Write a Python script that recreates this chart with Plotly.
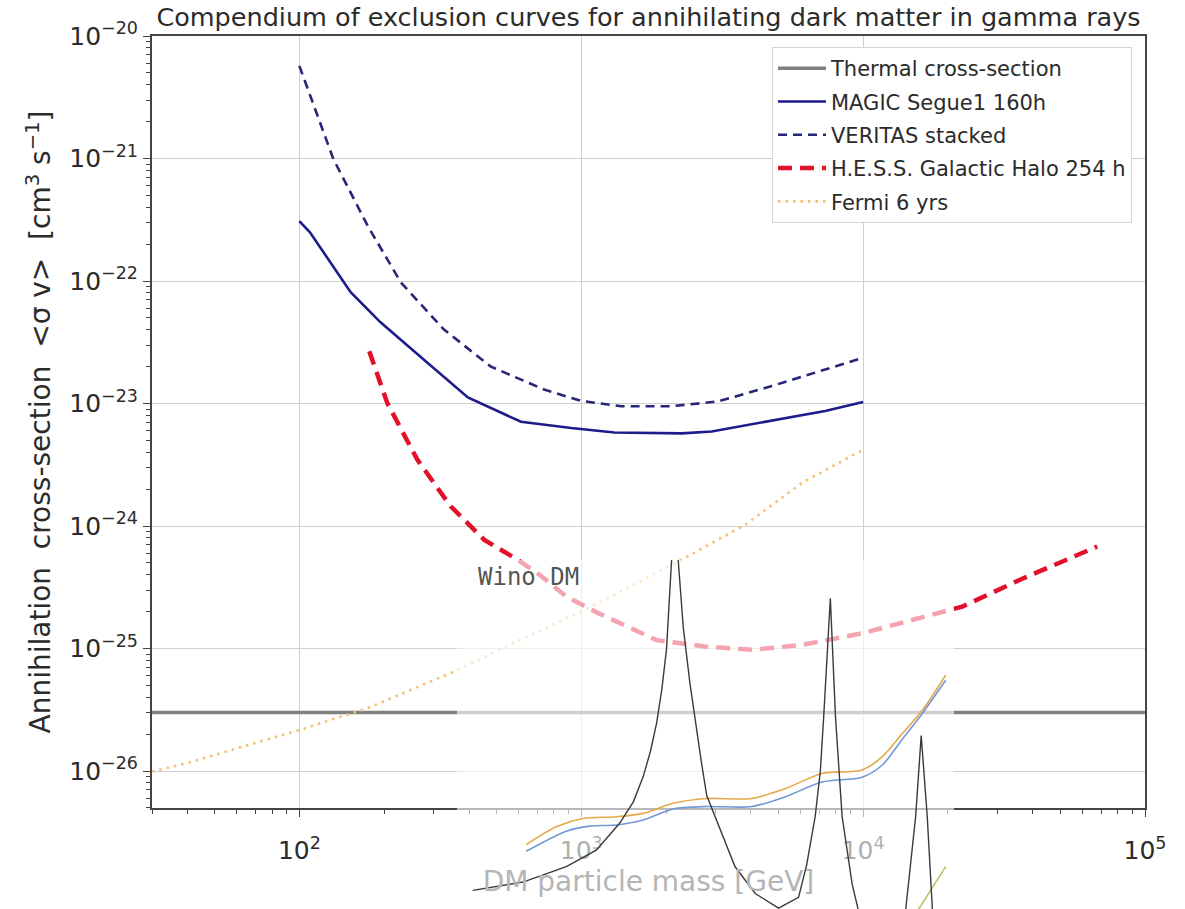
import numpy as np
import plotly.graph_objects as go

# ---------------- data ----------------
thermal_m = [30, 1e5]
thermal_sv = [3e-26, 3e-26]

magic_m = [100, 109, 152, 194, 276, 396, 611, 921, 1309, 2270, 2902, 4745, 7328, 10000]
magic_sv = [3.08e-22, 2.5e-22, 8.1e-23, 4.6e-23, 2.29e-23, 1.12e-23, 7.1e-24, 6.3e-24,
            5.8e-24, 5.7e-24, 5.9e-24, 7.2e-24, 8.7e-24, 1.03e-23]

veritas_m = [100, 132, 175, 229, 325, 478, 738, 1000, 1387, 2089, 3062, 4745, 10000]
veritas_sv = [5.7e-21, 9.9e-22, 2.8e-22, 9.75e-23, 4.03e-23, 2.0e-23, 1.3e-23, 1.05e-23,
              9.5e-24, 9.5e-24, 1.04e-23, 1.39e-23, 2.36e-23]

hess_m = [177, 205, 262, 344, 453, 595, 711, 885, 1146, 1850, 2740, 4027, 6069, 9915,
          22500, 36000, 67700]
hess_sv = [2.67e-23, 1.01e-23, 3.48e-24, 1.45e-24, 7.7e-25, 5.3e-25, 4.0e-25, 2.66e-25,
           1.95e-25, 1.17e-25, 1.04e-25, 9.75e-26, 1.07e-25, 1.33e-25, 2.2e-25, 3.64e-25,
           6.8e-25]

fermi_m = [30, 40, 60, 100, 174, 344, 600, 1028, 1680, 2334, 3810, 6070, 10000]
fermi_sv = [9.9e-27, 1.16e-26, 1.53e-26, 2.16e-26, 3.25e-26, 6.3e-26, 1.16e-25, 2.07e-25,
            3.7e-25, 5.5e-25, 1.02e-24, 2.25e-24, 4.2e-24]

# Wino DM inset curves (expressed on the same mass / cross-section scale)
wino_black_m = [412, 621, 885, 1130, 1368, 1530, 1659, 1760, 1850, 1930, 2006, 2090, 2150,
                2208, 2300, 2428, 2550, 2673, 2787, 2979, 3230, 3510, 4140, 5013, 5900,
                6300, 6760, 7050, 7244, 7650, 7980, 8200, 8420, 9140, 9600, 11500, 14160,
                15360, 16070, 16880, 17610, 19000]
wino_black_sv = [1.06e-27, 1.24e-27, 1.66e-27, 2.26e-27, 3.74e-27, 5.6e-27, 9.0e-27,
                 1.45e-26, 2.45e-26, 4.6e-26, 9.8e-26, 5.25e-25, 1.6e-24, 5.25e-25,
                 1.5e-25, 5.25e-26, 2.3e-26, 1.15e-26, 6.3e-27, 4.27e-27, 2.7e-27,
                 1.66e-27, 1.0e-27, 7.6e-28, 9.3e-28, 1.7e-27, 4.27e-27, 1.0e-26,
                 2.75e-26, 2.57e-25, 2.75e-26, 1.0e-26, 4.27e-27, 1.2e-27, 7.4e-28,
                 2.5e-28, 7.4e-28, 4.27e-27, 1.95e-26, 4.27e-27, 7.4e-28, 3.2e-28]

wino_orange_m = [637, 815, 1014, 1333, 1659, 2118, 2787, 4027, 5300, 7148, 9915, 11700,
                 13780, 16220, 19630]
wino_orange_sv = [2.51e-27, 3.51e-27, 4.10e-27, 4.23e-27, 4.51e-27, 5.45e-27, 5.96e-27,
                  5.96e-27, 7.19e-27, 9.55e-27, 1.02e-26, 1.31e-26, 2.02e-26, 3.13e-26,
                  6.05e-26]

wino_blue_m = [637, 885, 1071, 1333, 1659, 2118, 2787, 4027, 5300, 7148, 9915, 11700,
               13780, 16220, 19630]
wino_blue_sv = [2.21e-27, 3.23e-27, 3.55e-27, 3.63e-27, 3.98e-27, 4.90e-27, 5.13e-27,
                5.13e-27, 6.17e-27, 8.13e-27, 8.91e-27, 1.12e-26, 1.82e-26, 2.95e-26,
                5.50e-26]

wino_green_m = [13770, 19630]
wino_green_sv = [4.6e-28, 1.66e-27]

x_tick_vals = [1e2, 1e3, 1e4, 1e5]
x_tick_text = ["10<sup>2</sup>", "10<sup>3</sup>", "10<sup>4</sup>", "10<sup>5</sup>"]
y_tick_vals = [1e-26, 1e-25, 1e-24, 1e-23, 1e-22, 1e-21, 1e-20]
y_tick_text = ["10<sup>\u221226</sup>", "10<sup>\u221225</sup>", "10<sup>\u221224</sup>",
               "10<sup>\u221223</sup>", "10<sup>\u221222</sup>", "10<sup>\u221221</sup>",
               "10<sup>\u221220</sup>"]

# ---------------- layout geometry ----------------
W, H = 1185, 909
ML, MR, MT, MB = 152, 40, 36, 0
PW, PH = W - ML - MR, H - MT - MB
main_bottom_px = 808
x_rng = [np.log10(30), 5.0]
y_rng = [-26.302, -20.0]
yd0 = (H - main_bottom_px) / PH

# inset box (pixels)
box_l, box_r, box_t, box_b = 457, 954, 560, 909
bx0, bx1 = (box_l - ML) / PW, (box_r - ML) / PW
by0, by1 = (H - box_b) / PH, (H - box_t) / PH


def xval(p):
    return x_rng[0] + p * (x_rng[1] - x_rng[0])


def yval(p):
    return y_rng[0] + (p - yd0) / (1 - yd0) * (y_rng[1] - y_rng[0])


x2_rng = [xval(bx0), xval(bx1)]
y2_rng = [yval(by0), yval(by1)]

FONT = "DejaVu Sans"
TXT = "#2b2b2b"

fig = go.Figure()

series = [
    (thermal_m, thermal_sv, "Thermal cross-section", dict(color="#808080", width=3.5)),
    (magic_m, magic_sv, "MAGIC Segue1 160h", dict(color="#1c1c8a", width=2.6)),
    (veritas_m, veritas_sv, "VERITAS stacked", dict(color="#26267a", width=2.6, dash="9px,6px")),
    (hess_m, hess_sv, "H.E.S.S. Galactic Halo 254 h", dict(color="#e3102a", width=4.5, dash="14px,8px")),
    (fermi_m, fermi_sv, "Fermi 6 yrs", dict(color="#f3bf72", width=2.6, dash="2.5px,5px")),
]
for i, (xm, ys, nm, ln) in enumerate(series):
    fig.add_trace(go.Scatter(x=xm, y=ys, mode="lines", name=nm, line=ln,
                             legendgroup=f"g{i}"))

# inset (its translucent background comes from plot_bgcolor of the overlapping subplot)
fig.add_trace(go.Scatter(x=wino_orange_m, y=wino_orange_sv, xaxis="x2", yaxis="y2", mode="lines",
                         line=dict(color="#e5a94a", width=1.6, shape="spline", smoothing=0.8),
                         showlegend=False))
fig.add_trace(go.Scatter(x=wino_blue_m, y=wino_blue_sv, xaxis="x2", yaxis="y2", mode="lines",
                         line=dict(color="#6f98d6", width=1.6, shape="spline", smoothing=0.8),
                         showlegend=False))
fig.add_trace(go.Scatter(x=wino_green_m, y=wino_green_sv, xaxis="x2", yaxis="y2", mode="lines",
                         line=dict(color="#a9c75e", width=1.5), showlegend=False))
fig.add_trace(go.Scatter(x=wino_black_m, y=wino_black_sv, xaxis="x2", yaxis="y2", mode="lines",
                         line=dict(color="#3a3a3a", width=1.4), showlegend=False))

x_minor = [k * 10 ** e for e in range(1, 5) for k in range(2, 10) if 30 <= k * 10 ** e <= 1e5]
y_minor = [k * 10.0 ** e for e in range(-27, -20) for k in range(2, 10)]

axis_common = dict(
    type="log", showline=True, linecolor="#444", linewidth=2, mirror=True,
    showgrid=True, gridcolor="#cfcfcf", gridwidth=1, zeroline=False,
    ticks="outside", ticklen=7, tickwidth=1.3, tickcolor="#444",
    tickfont=dict(family=FONT, size=25, color=TXT), automargin=False,
)

fig.update_layout(
    width=W, height=H,
    margin=dict(l=ML, r=MR, t=MT, b=MB),
    paper_bgcolor="white", plot_bgcolor="rgba(255,255,255,0.62)",
    font=dict(family=FONT, color=TXT),
    title=dict(text="Compendium of exclusion curves for annihilating dark matter in gamma rays",
               x=0.5, xref="paper", xanchor="center", y=1 - 17 / H, yanchor="middle",
               font=dict(family=FONT, size=25.5, color=TXT)),
    xaxis=dict(axis_common, range=x_rng, domain=[0, 1], anchor="y",
               tickmode="array", tickvals=x_tick_vals, ticktext=x_tick_text,
               ticklabelstandoff=12,
               minor=dict(tickmode="array", tickvals=x_minor, ticks="outside", ticklen=4,
                          tickwidth=1, tickcolor="#444", showgrid=False),
               title=dict(text="DM particle mass [GeV]", standoff=2,
                          font=dict(family=FONT, size=28, color="#b5b5b5"))),
    yaxis=dict(axis_common, range=y_rng, domain=[yd0, 1], anchor="x",
               tickmode="array", tickvals=y_tick_vals, ticktext=y_tick_text,
               minor=dict(tickmode="array", tickvals=y_minor, ticks="outside", ticklen=4,
                          tickwidth=1, tickcolor="#444", showgrid=False),
               title=dict(text="Annihilation  cross-section  &lt;\u03c3 v&gt;  [cm<sup>3</sup> s<sup>\u22121</sup>]",
                          standoff=10, font=dict(family=FONT, size=28, color=TXT))),
    xaxis2=dict(type="log", range=x2_rng, domain=[bx0, bx1], anchor="y2", visible=False),
    yaxis2=dict(type="log", range=y2_rng, domain=[by0, by1], anchor="x2", visible=False),
    legend=dict(x=(1132 - ML) / PW, y=(H - 47) / PH, xanchor="right", yanchor="top",
                bgcolor="white", bordercolor="#d6d6d6", borderwidth=1,
                traceorder="grouped", tracegroupgap=3, itemwidth=48,
                font=dict(family=FONT, size=21, color=TXT)),
    showlegend=True,
    annotations=[dict(text="Wino DM", xref="paper", yref="paper",
                      x=(476 - ML) / PW, y=(H - 577) / PH, xanchor="left", yanchor="middle",
                      showarrow=False,
                      font=dict(family="DejaVu Sans Mono", size=24, color="#555555"))],
)

fig.write_html("out.html")
